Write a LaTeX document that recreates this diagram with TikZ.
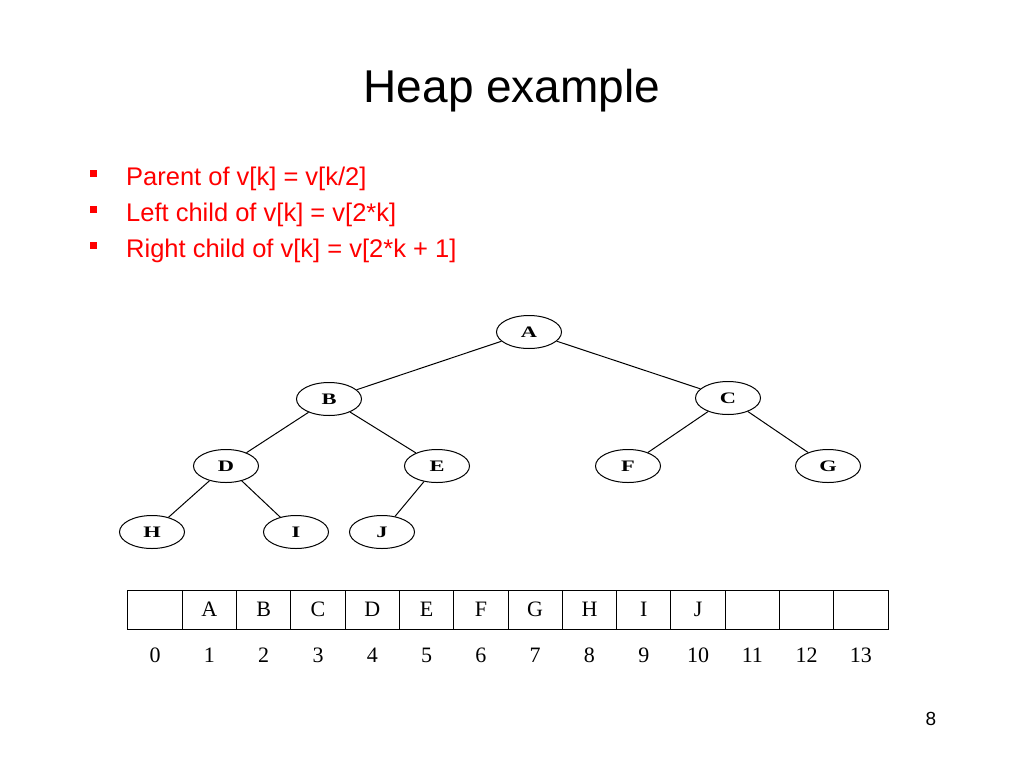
\documentclass[tikz,border=0pt]{standalone}
\usepackage{fontspec}
\setmainfont{Liberation Sans}
\newfontfamily\timesfont{Liberation Serif}
\usetikzlibrary{shapes.geometric}

\newcommand{\wideletter}[1]{\scalebox{1.4}[1]{#1}}

\tikzset{
  heapnode/.style = {shape=ellipse, draw, line width=1pt,
                     minimum width=65pt, minimum height=33pt, inner sep=0pt,
                     font=\timesfont\bfseries\fontsize{16}{16}\selectfont},
  heapedge/.style = {draw, line width=1pt},
  cell/.style     = {shape=rectangle, draw, line width=1pt,
                     minimum width=54.29pt, minimum height=39pt, inner sep=0pt,
                     font=\timesfont\fontsize{22}{22}\selectfont},
  index/.style    = {anchor=base, inner sep=0pt,
                     font=\timesfont\fontsize{22}{22}\selectfont},
  bullettext/.style = {anchor=base west, inner sep=0pt, text=red,
                     font=\fontsize{25.5}{25.5}\selectfont},
  bulletmark/.style = {shape=rectangle, fill=red, inner sep=0pt,
                     minimum size=7pt}
}

\begin{document}
\begin{tikzpicture}[x=1pt, y=-1pt]
\useasboundingbox (0,0) rectangle (1024,768);

% title and bullets
\node [anchor=base, inner sep=0pt, font=\fontsize{46}{46}\selectfont] (title) at (512,102) {Heap example};
\node [bulletmark] (m1) at (93,173) {};
\node [bulletmark] (m2) at (93,209) {};
\node [bulletmark] (m3) at (93,245) {};
\node [bullettext] (parent) at (126,185) {Parent of v[k] = v[k/2]};
\node [bullettext] (left) at (126,221) {Left child of v[k] = v[2*k]};
\node [bullettext] (right) at (126,257) {Right child of v[k] = v[2*k + 1]};

% the heap as a tree
\node [heapnode] (A) at (529,332) {\wideletter{A}};
\node [heapnode] (B) at (329,399) {\wideletter{B}};
\node [heapnode] (C) at (728,398) {\wideletter{C}};
\node [heapnode] (D) at (226,466) {\wideletter{D}};
\node [heapnode] (E) at (437,466) {\wideletter{E}};
\node [heapnode] (F) at (628,466) {\wideletter{F}};
\node [heapnode] (G) at (828,466) {\wideletter{G}};
\node [heapnode] (H) at (152,532) {\wideletter{H}};
\node [heapnode] (I) at (296,532) {\wideletter{I}};
\node [heapnode] (J) at (382,532) {\wideletter{J}};

\draw [heapedge] (A) -- (B);
\draw [heapedge] (A) -- (C);
\draw [heapedge] (B) -- (D);
\draw [heapedge] (B) -- (E);
\draw [heapedge] (C) -- (F);
\draw [heapedge] (C) -- (G);
\draw [heapedge] (D) -- (H);
\draw [heapedge] (D) -- (I);
\draw [heapedge] (E) -- (J);

% the heap as an array
\foreach \k/\v in {0/{},1/A,2/B,3/C,4/D,5/E,6/F,7/G,8/H,9/I,10/J,11/{},12/{},13/{}}{
  \node [cell] (cell\k) at ({155.14+54.29*\k},609.5) {\v};
  \node [index] (idx\k) at ({155.14+54.29*\k},662) {\k};
}

% page number
\node [anchor=base, inner sep=0pt, font=\fontsize{19}{19}\selectfont] (page) at (931,725) {8};
\end{tikzpicture}
\end{document}
